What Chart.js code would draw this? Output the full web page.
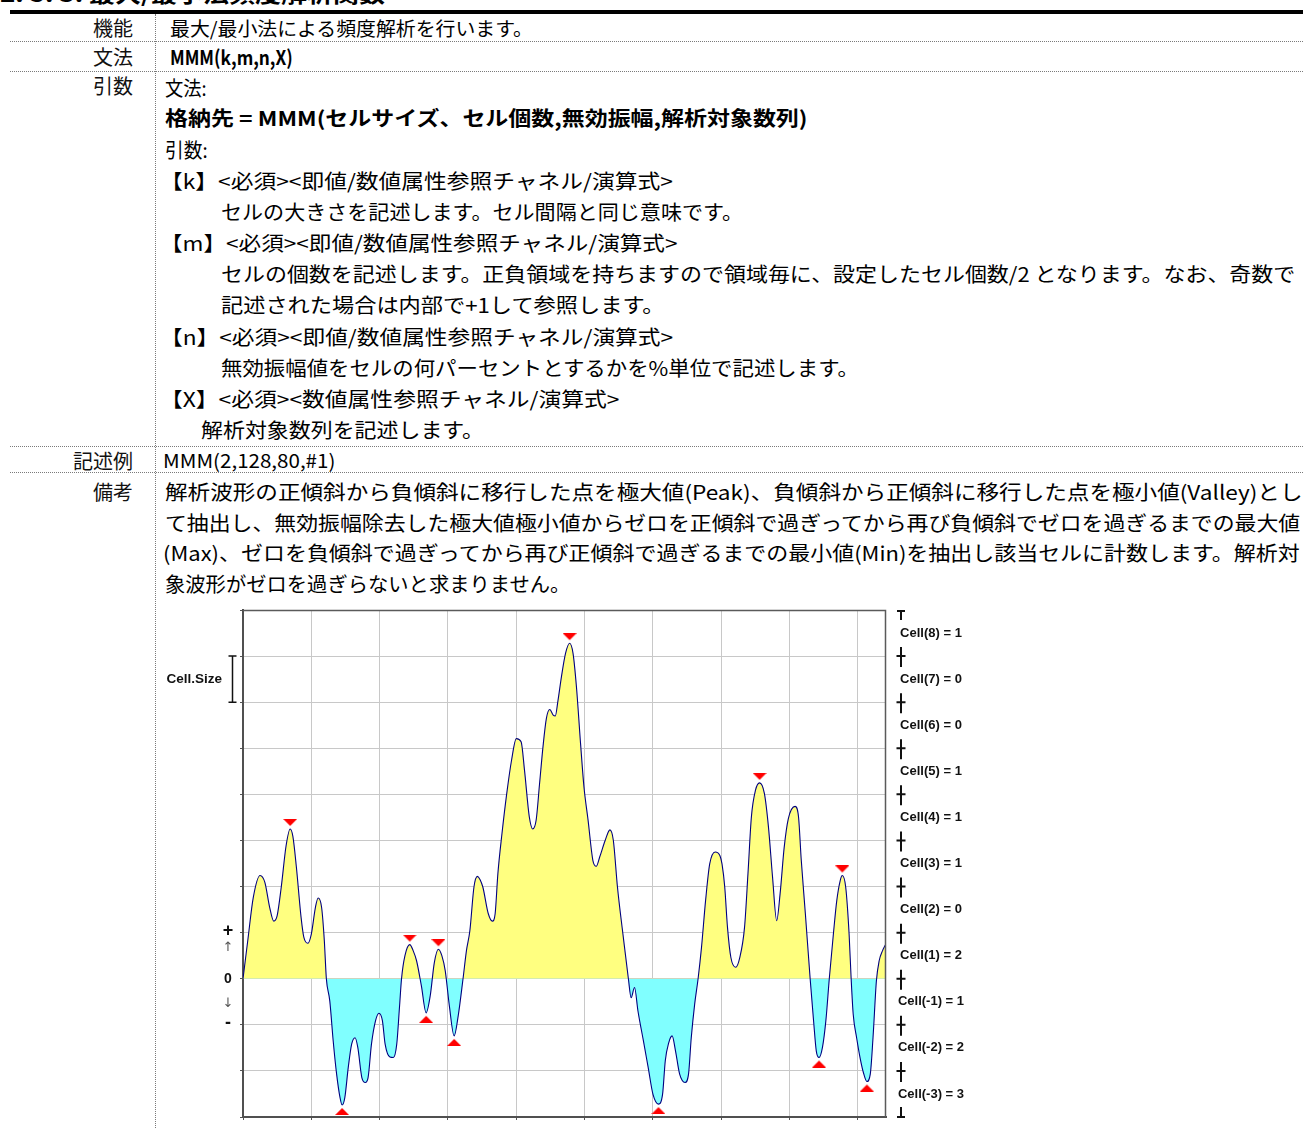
<!DOCTYPE html>
<html><head><meta charset="utf-8">
<script src="https://cdn.jsdelivr.net/npm/chart.js@4.4.0/dist/chart.umd.min.js"></script>
<style>
html,body{margin:0;padding:0;background:#fff;}
body{width:1303px;height:1128px;position:relative;overflow:hidden;font-family:"Noto Sans CJK JP","Noto Sans",sans-serif;color:#000;}
.t{position:absolute;white-space:nowrap;line-height:30px;height:30px;font-size:20px;transform-origin:0 50%;}
.lbl{position:absolute;white-space:nowrap;line-height:30px;font-size:20px;right:1170px;text-align:right;color:#111;}
.dh{position:absolute;left:10px;width:1293px;height:0;border-top:1px dotted #7a7a7a;}
.dv{position:absolute;left:155px;top:14px;height:1114px;width:0;border-left:1px dotted #7a7a7a;}
.thick{position:absolute;left:10px;top:10px;width:1293px;height:4px;background:#000;}
#c{position:absolute;left:157px;top:600px;}
</style>
</head><body>
<div class="t" style="left:0;top:-23px;font-size:22px;font-weight:bold;" data-w="385">2. 5. 3. 最大/最小法頻度解析関数</div>
<div class="thick"></div>
<div class="dv"></div>
<div class="dh" style="top:41px"></div>
<div class="dh" style="top:71px"></div>
<div class="dh" style="top:446px"></div>
<div class="dh" style="top:472px"></div>

<div class="lbl" style="top:13px">機能</div>
<div class="lbl" style="top:42px">文法</div>
<div class="lbl" style="top:71px">引数</div>
<div class="lbl" style="top:446px">記述例</div>
<div class="lbl" style="top:477px">備考</div>

<div class="t" style="left:170px;top:13px;font-size:19px" data-w="363">最大/最小法による頻度解析を行います。</div>
<div class="t" style="left:170px;top:42px;font-weight:bold" data-w="123">MMM(k,m,n,X)</div>
<div class="t" style="left:165px;top:73px" data-w="42">文法:</div>
<div class="t" style="left:165px;top:103px;font-weight:bold" data-w="643">格納先 = MMM(セルサイズ、セル個数,無効振幅,解析対象数列)</div>
<div class="t" style="left:165px;top:135px" data-w="43">引数:</div>
<div class="t" style="left:160px;top:166px" data-w="513">【k】<必須><即値/数値属性参照チャネル/演算式></div>
<div class="t" style="left:221px;top:197px" data-w="522">セルの大きさを記述します。セル間隔と同じ意味です。</div>
<div class="t" style="left:160px;top:228px" data-w="517">【m】<必須><即値/数値属性参照チャネル/演算式></div>
<div class="t" style="left:221px;top:259px" data-w="1074">セルの個数を記述します。正負領域を持ちますので領域毎に、設定したセル個数/2 となります。なお、奇数で</div>
<div class="t" style="left:221px;top:290px" data-w="444">記述された場合は内部で+1して参照します。</div>
<div class="t" style="left:160px;top:322px" data-w="513">【n】<必須><即値/数値属性参照チャネル/演算式></div>
<div class="t" style="left:221px;top:353px" data-w="638">無効振幅値をセルの何パーセントとするかを%単位で記述します。</div>
<div class="t" style="left:160px;top:384px" data-w="460">【X】<必須><数値属性参照チャネル/演算式></div>
<div class="t" style="left:201px;top:415px" data-w="283">解析対象数列を記述します。</div>
<div class="t" style="left:163px;top:445px;font-size:19px" data-w="172">MMM(2,128,80,#1)</div>
<div class="t" style="left:165px;top:477px" data-w="1137">解析波形の正傾斜から負傾斜に移行した点を極大値(Peak)、負傾斜から正傾斜に移行した点を極小値(Valley)とし</div>
<div class="t" style="left:165px;top:508px" data-w="1135">て抽出し、無効振幅除去した極大値極小値からゼロを正傾斜で過ぎってから再び負傾斜でゼロを過ぎるまでの最大値</div>
<div class="t" style="left:163px;top:538px" data-w="1137">(Max)、ゼロを負傾斜で過ぎってから再び正傾斜で過ぎるまでの最小値(Min)を抽出し該当セルに計数します。解析対</div>
<div class="t" style="left:165px;top:569px" data-w="405">象波形がゼロを過ぎらないと求まりません。</div>

<canvas id="c" width="820" height="528"></canvas>

<script>
// fit text lines to measured widths
document.querySelectorAll('.t[data-w]').forEach(el => {
  const w = el.scrollWidth;
  const target = +el.dataset.w;
  if (w > 0) el.style.transform = 'scaleX(' + (target / w) + ')';
});

// ---------- data ----------
const waveX = [0,0.07,0.15,0.25,0.32,0.39,0.45,0.50,0.56,0.63,
  0.69,0.73,0.78,0.85,0.89,0.95,1.00,1.06,1.10,1.15,
  1.19,1.22,1.27,1.32,1.37,1.42,1.45,1.49,1.54,1.59,
  1.64,1.68,1.74,1.79,1.83,1.88,1.94,1.99,2.04,2.08,
  2.15,2.20,2.25,2.29,2.32,2.37,2.44,2.49,2.54,2.61,
  2.68,2.74,2.80,2.86,2.91,2.96,3.02,3.09,3.15,3.22,
  3.27,3.32,3.38,3.43,3.47,3.51,3.59,3.65,3.69,3.73,
  3.79,3.86,3.93,4.00,4.07,4.12,4.19,4.24,4.29,4.34,
  4.39,4.44,4.49,4.54,4.57,4.61,4.66,4.72,4.78,4.83,
  4.88,4.94,4.99,5.05,5.12,5.17,5.22,5.30,5.37,5.42,
  5.48,5.56,5.64,5.68,5.73,5.78,5.86,5.93,6.00,6.08,
  6.14,6.18,6.23,6.28,6.33,6.39,6.47,6.52,6.56,6.61,
  6.66,6.71,6.77,6.83,6.91,6.98,7.01,7.05,7.09,7.14,
  7.21,7.27,7.34,7.39,7.44,7.50,7.56,7.63,7.69,7.75,
  7.81,7.86,7.92,7.98,8.08,8.13,8.17,8.23,8.30,8.35,
  8.39,8.43,8.48,8.53,8.58,8.64,8.69,8.74,8.77,8.82,
  8.87,8.90,8.93,8.98,9.03,9.08,9.13,9.18,9.22,9.27,
  9.31,9.36,9.40];
const waveY = [0,0.83,1.76,2.24,2.09,1.55,1.25,1.37,1.99,2.88,
  3.25,3.09,2.44,1.33,0.90,0.77,0.97,1.55,1.75,1.55,
  0.83,0,-0.48,-1.35,-2.07,-2.58,-2.74,-2.58,-1.93,-1.42,
  -1.28,-1.49,-2.15,-2.25,-2.15,-1.42,-0.91,-0.75,-0.91,-1.42,
  -1.70,-1.71,-1.42,-0.62,0,0.50,0.74,0.61,0.39,-0.15,
  -0.74,-0.37,0.35,0.64,0.50,0.17,-0.59,-1.24,-0.80,0,
  0.61,1.04,1.99,2.22,2.15,1.99,1.41,1.25,1.41,2.28,
  3.15,4.02,4.74,5.21,5.14,4.52,3.51,3.25,3.44,4.23,
  5.03,5.65,5.84,5.72,5.70,6.04,6.55,7.06,7.28,7.06,
  6.33,5.10,4.16,3.44,2.57,2.44,2.64,3.00,3.23,3.00,
  1.99,0.97,0,-0.41,-0.19,-0.70,-1.35,-1.93,-2.51,-2.72,
  -2.51,-1.78,-1.39,-1.24,-1.57,-2.07,-2.25,-2.07,-1.28,-0.55,
  0,0.68,1.70,2.49,2.75,2.67,2.49,1.99,1.12,0.46,
  0.25,0.46,1.12,2.28,3.51,4.09,4.25,4.02,3.29,2.20,
  1.26,1.84,2.85,3.47,3.74,3.51,2.57,1.41,0,-0.91,
  -1.57,-1.71,-1.49,-0.91,0,0.97,1.70,2.13,2.24,1.99,
  0.97,0,-0.77,-1.28,-1.71,-2.04,-2.23,-2.07,-1.28,-0.04,
  0.39,0.61,0.73];
const peakX = [0.69, 2.44, 2.86, 4.78, 7.56, 8.77];
const peakY = [3.25, 0.74, 0.64, 7.28, 4.25, 2.24];
const valleyX = [1.45, 2.68, 3.09, 6.08, 8.43, 9.13];
const valleyY = [-2.74, -0.74, -1.24, -2.72, -1.71, -2.23];
const cellIndex = [8, 7, 6, 5, 4, 3, 2, 1, -1, -2, -3];
const cellCount = [1, 0, 0, 1, 1, 1, 0, 2, 1, 2, 3];
const yTicks = [-3, -2, -1, 0, 1, 2, 3, 4, 5, 6, 7, 8];
const xTicks = [0, 1, 2, 3, 4, 5, 6, 7, 8, 9];
const xMax = 9.41;
const cellSizeBar = [6, 7];

// ---------- marker images ----------
function tri(down) {
  const c = document.createElement('canvas');
  c.width = 14; c.height = 20;
  const g = c.getContext('2d');
  g.fillStyle = '#ff0000';
  g.beginPath();
  if (down) { g.moveTo(0, 0); g.lineTo(14, 0); g.lineTo(7, 7); }
  else { g.moveTo(7, 13); g.lineTo(14, 20); g.lineTo(0, 20); }
  g.closePath(); g.fill();
  return c;
}
const downTri = tri(true), upTri = tri(false);

const deco = {
  id: 'deco',
  afterDraw(chart) {
    const ctx = chart.ctx, ya = chart.scales.y, a = chart.chartArea;
    ctx.save();
    // plot frame
    ctx.strokeStyle = '#5a5a5a'; ctx.lineWidth = 1.5;
    ctx.beginPath();
    ctx.moveTo(a.left, a.top + 0.5); ctx.lineTo(a.right - 0.5, a.top + 0.5); ctx.lineTo(a.right - 0.5, a.bottom);
    ctx.stroke();
    // Cell.Size
    ctx.fillStyle = '#111';
    ctx.font = 'bold 13.5px "Liberation Sans", Arial, sans-serif';
    ctx.textAlign = 'right'; ctx.textBaseline = 'middle';
    ctx.fillText('Cell.Size', 65, ya.getPixelForValue((cellSizeBar[0] + cellSizeBar[1]) / 2));
    const bx = 75.5, b1 = ya.getPixelForValue(cellSizeBar[1]), b0 = ya.getPixelForValue(cellSizeBar[0]);
    ctx.strokeStyle = '#111'; ctx.lineWidth = 1.5;
    ctx.beginPath();
    ctx.moveTo(bx, b1); ctx.lineTo(bx, b0);
    ctx.moveTo(bx - 4, b1); ctx.lineTo(bx + 4, b1);
    ctx.moveTo(bx - 4, b0); ctx.lineTo(bx + 4, b0);
    ctx.stroke();
    // + ↑ 0 ↓ -
    ctx.textAlign = 'center';
    ctx.font = 'bold 18px "Liberation Sans", Arial, sans-serif';
    ctx.fillText('+', 71, ya.getPixelForValue(1) - 2);
    ctx.font = 'bold 14px "Liberation Sans", Arial, sans-serif';
    ctx.fillText('0', 71, ya.getPixelForValue(0));
    ctx.font = 'bold 18px "Liberation Sans", Arial, sans-serif';
    ctx.fillText('-', 71, ya.getPixelForValue(-1) - 2);
    ctx.fillStyle = '#555';
    ctx.font = '13px "DejaVu Sans", sans-serif';
    ctx.fillText('↑', 71, ya.getPixelForValue(0.68));
    ctx.fillText('↓', 71, ya.getPixelForValue(-0.55));
    // right cell scale
    const rx = 744;
    ctx.strokeStyle = '#111'; ctx.lineWidth = 2;
    const top = ya.getPixelForValue(yTicks[yTicks.length - 1]);
    const bot = ya.getPixelForValue(yTicks[0]);
    yTicks.forEach(v => {
      const p = ya.getPixelForValue(v);
      ctx.beginPath();
      if (p === top) { ctx.moveTo(rx, p + 1); ctx.lineTo(rx, p + 10); ctx.moveTo(rx - 4, p + 1); ctx.lineTo(rx + 4, p + 1); }
      else if (p === bot) { ctx.moveTo(rx, p - 10); ctx.lineTo(rx, p); ctx.moveTo(rx - 4, p); ctx.lineTo(rx + 4, p); }
      else { ctx.moveTo(rx, p - 9); ctx.lineTo(rx, p + 11); ctx.moveTo(rx - 4.5, p); ctx.lineTo(rx + 4.5, p); }
      ctx.stroke();
    });
    ctx.fillStyle = '#111';
    ctx.font = 'bold 13px "Liberation Sans", Arial, sans-serif';
    ctx.textAlign = 'center';
    cellIndex.forEach((k, i) => {
      const mid = k > 0 ? k - 0.5 : k + 0.5;
      ctx.fillText('Cell(' + k + ') = ' + cellCount[i], 774, ya.getPixelForValue(mid));
    });
    ctx.restore();
  }
};

new Chart(document.getElementById('c'), {
  type: 'line',
  data: {
    datasets: [
      {
        data: waveX.map((x, i) => ({x: x, y: waveY[i]})),
        borderColor: '#000080', borderWidth: 1.1,
        pointRadius: 0, cubicInterpolationMode: 'monotone',
        fill: {target: 'origin', above: '#ffff80', below: '#80ffff'}
      },
      {
        data: peakX.map((x, i) => ({x: x, y: peakY[i]})),
        showLine: false, pointStyle: downTri, pointRadius: 7, fill: false
      },
      {
        data: valleyX.map((x, i) => ({x: x, y: valleyY[i]})),
        showLine: false, pointStyle: upTri, pointRadius: 7, fill: false
      }
    ]
  },
  options: {
    responsive: false, animation: false, events: [],
    layout: {padding: {left: 83, right: 91, top: 10, bottom: 8}},
    plugins: {legend: {display: false}, tooltip: {enabled: false}},
    scales: {
      x: {
        type: 'linear', min: 0, max: xMax, z: 1,
        afterBuildTicks: s => { s.ticks = xTicks.map(v => ({value: v})); },
        ticks: {display: false},
        grid: {color: '#c8c8c8', lineWidth: 1, tickLength: 3, tickColor: '#555'},
        border: {color: '#505050', width: 2}
      },
      y: {
        type: 'linear', min: yTicks[0], max: yTicks[yTicks.length - 1], z: 1,
        afterBuildTicks: s => { s.ticks = yTicks.map(v => ({value: v})); },
        ticks: {display: false},
        grid: {color: '#c8c8c8', lineWidth: 1, tickLength: 3, tickColor: '#555'},
        border: {color: '#505050', width: 2}
      }
    }
  },
  plugins: [deco]
});
</script>
</body></html>
